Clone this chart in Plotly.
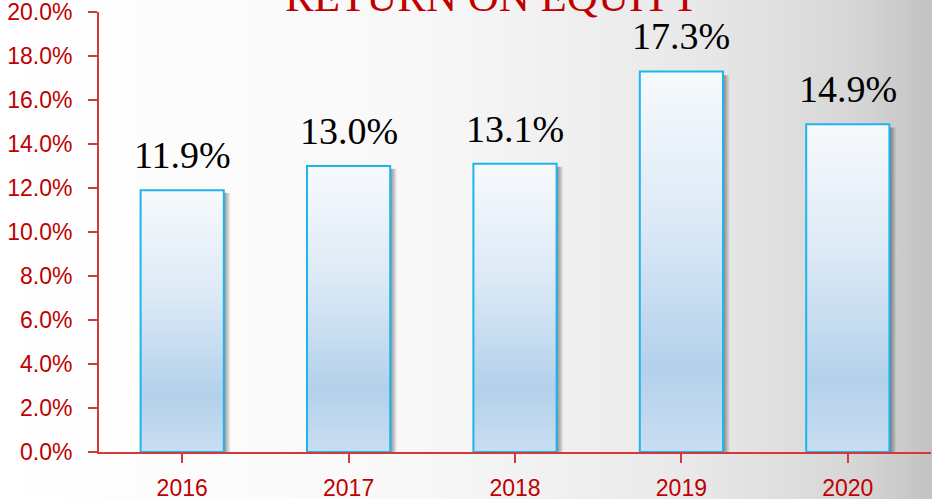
import base64
import plotly.graph_objects as go

years = ["2016", "2017", "2018", "2019", "2020"]
roe = [0.119, 0.130, 0.131, 0.173, 0.149]
labels = ["11.9%", "13.0%", "13.1%", "17.3%", "14.9%"]
y_ticks = [0.0, 0.02, 0.04, 0.06, 0.08, 0.10, 0.12, 0.14, 0.16, 0.18, 0.20]
title_text = "RETURN ON EQUITY"

W, H = 932, 499
ML, MR, MT, MB = 99, 1, 12, 47
PW, PH = W - ML - MR, H - MT - MB

RED_TXT = "#c00000"
RED_AX = "#d2393b"


def svg_uri(svg):
    return "data:image/svg+xml;base64," + base64.b64encode(svg.encode()).decode()


bg_svg = """<svg xmlns='http://www.w3.org/2000/svg' width='932' height='499' viewBox='0 0 932 499' preserveAspectRatio='none'>
<defs><linearGradient id='g' x1='0' y1='0' x2='1' y2='0'>
<stop offset='0' stop-color='#ffffff'/><stop offset='0.45' stop-color='#f8f8f8'/>
<stop offset='0.75' stop-color='#e8e8e8'/><stop offset='0.92' stop-color='#d6d6d6'/>
<stop offset='1' stop-color='#c2c2c2'/></linearGradient></defs>
<rect width='932' height='499' fill='url(#g)'/></svg>"""

bar_svg = """<svg xmlns='http://www.w3.org/2000/svg' width='90' height='100' viewBox='0 0 90 100' preserveAspectRatio='none'>
<defs><linearGradient id='b' x1='0' y1='0' x2='0' y2='1'>
<stop offset='0' stop-color='#f7fafd'/><stop offset='0.4' stop-color='#dce9f6'/>
<stop offset='0.78' stop-color='#b3d1eb'/><stop offset='1' stop-color='#c9ddf1'/></linearGradient>
<linearGradient id='s' x1='0' y1='0' x2='1' y2='0'>
<stop offset='0' stop-color='#000' stop-opacity='0.45'/><stop offset='1' stop-color='#000' stop-opacity='0'/></linearGradient></defs>
<rect x='83' y='1' width='7' height='99' fill='url(#s)'/>
<rect x='0' y='0' width='83' height='100' fill='url(#b)'/></svg>"""

cat_px = PW / len(years)
bar_w = 0.5
shadow_units = 7 / cat_px

images = [dict(source=svg_uri(bg_svg), xref="paper", yref="paper",
               x=-ML / PW, y=1 + MT / PH, sizex=W / PW, sizey=H / PH,
               xanchor="left", yanchor="top", sizing="stretch", layer="below")]
for i, v in enumerate(roe):
    images.append(dict(source=svg_uri(bar_svg), xref="x", yref="y",
                       x=i - bar_w / 2, y=v, sizex=bar_w + shadow_units, sizey=v,
                       xanchor="left", yanchor="top", sizing="stretch", layer="below"))

annotations = [dict(text=title_text, xref="paper", yref="paper", x=(493 - ML) / PW,
                    y=1 - 10 / PH, xanchor="center", yanchor="bottom", showarrow=False,
                    font=dict(family="Liberation Serif", size=43, color=RED_TXT))]
for i, (v, t) in enumerate(zip(roe, labels)):
    annotations.append(dict(text=t, x=i, y=v, xref="x", yref="y", xanchor="center",
                            yanchor="bottom", yshift=12, showarrow=False,
                            font=dict(family="Liberation Serif", size=38, color="#000000")))

fig = go.Figure(go.Bar(
    x=list(range(len(years))), y=roe, width=bar_w,
    marker=dict(color="rgba(0,0,0,0)", line=dict(color="#1cb5ee", width=2)),
    hoverinfo="skip",
))

fig.update_layout(
    width=W, height=H, margin=dict(l=ML, r=MR, t=MT, b=MB, pad=0),
    paper_bgcolor="#f4f4f4", plot_bgcolor="rgba(0,0,0,0)",
    showlegend=False, images=images, annotations=annotations,
)
fig.update_xaxes(
    range=[-0.5, len(years) - 0.5], tickmode="array", tickvals=list(range(len(years))),
    ticktext=years, tickson="boundaries", ticks="outside", ticklen=9, tickwidth=1.5,
    tickcolor=RED_AX, showline=True, linecolor=RED_AX, linewidth=2, showgrid=False,
    zeroline=False, ticklabelstandoff=5, automargin=False, ticklabeloverflow="allow",
    tickfont=dict(family="Liberation Sans", size=23, color=RED_TXT),
)
fig.update_yaxes(
    range=[0, 0.2], tickmode="array", tickvals=y_ticks, tickformat=".1%",
    ticks="outside", ticklen=9,
    tickwidth=1.5, tickcolor=RED_AX, showline=True, linecolor=RED_AX, linewidth=2,
    showgrid=False, zeroline=False, ticklabelstandoff=11, automargin=False,
    ticklabeloverflow="allow",
    tickfont=dict(family="Liberation Sans", size=23, color=RED_TXT),
)

fig.write_html("out.html", config={"displayModeBar": False},
               post_script="document.body.style.margin='0';document.body.style.overflow='hidden';")
